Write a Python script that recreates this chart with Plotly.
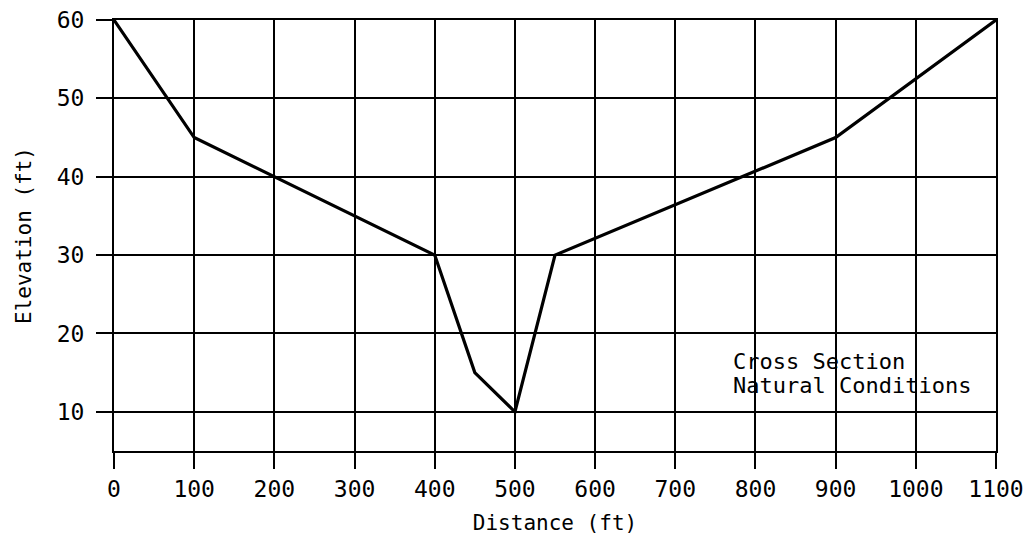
import plotly.graph_objects as go

distance_ft = [0, 100, 400, 450, 500, 550, 900, 1100]
elevation_ft = [60, 45, 30, 15, 10, 30, 45, 60]

x_ticks = [0, 100, 200, 300, 400, 500, 600, 700, 800, 900, 1000, 1100]
y_ticks = [10, 20, 30, 40, 50, 60]

note_lines = ["Cross Section", "Natural Conditions"]
note_y = [16.4, 13.4]

font_family = "DejaVu Sans Mono, Liberation Mono, monospace"

fig = go.Figure()
fig.add_trace(go.Scatter(
    x=distance_ft, y=elevation_ft, mode="lines",
    line=dict(color="black", width=3.2), showlegend=False, hoverinfo="skip"))

for txt, yy in zip(note_lines, note_y):
    fig.add_annotation(
        x=770, y=yy, xref="x", yref="y", text=txt,
        showarrow=False, xanchor="left", yanchor="middle", align="left",
        font=dict(family=font_family, size=22, color="black"))

fig.update_layout(
    width=1020, height=527,
    margin=dict(l=106, r=32, t=12, b=84, autoexpand=False),
    paper_bgcolor="white", plot_bgcolor="white",
    font=dict(family=font_family, color="black"),
)
fig.update_xaxes(
    range=[0, 1100], tickvals=x_ticks, ticktext=[str(v) for v in x_ticks],
    showgrid=True, gridcolor="black", gridwidth=1.6,
    showline=True, linecolor="black", linewidth=2, mirror=True,
    ticks="outside", ticklen=16, tickwidth=1.6, tickcolor="black",
    ticklabelstandoff=0, automargin=False, ticklabeloverflow="allow",
    tickfont=dict(family=font_family, size=23, color="black"),
    title=dict(text="Distance (ft)", standoff=18,
               font=dict(family=font_family, size=21, color="black")),
    zeroline=False, fixedrange=True,
)
fig.update_yaxes(
    range=[5, 60], tickvals=y_ticks, ticktext=[str(v) for v in y_ticks],
    showgrid=True, gridcolor="black", gridwidth=1.6,
    showline=True, linecolor="black", linewidth=2, mirror=True,
    ticks="outside", ticklen=16, tickwidth=1.6, tickcolor="black",
    ticklabelstandoff=7, automargin=False, ticklabeloverflow="allow",
    tickfont=dict(family=font_family, size=23, color="black"),
    title=dict(text="Elevation (ft)", standoff=19,
               font=dict(family=font_family, size=21, color="black")),
    zeroline=False, fixedrange=True,
)

fig.write_html("out.html")
